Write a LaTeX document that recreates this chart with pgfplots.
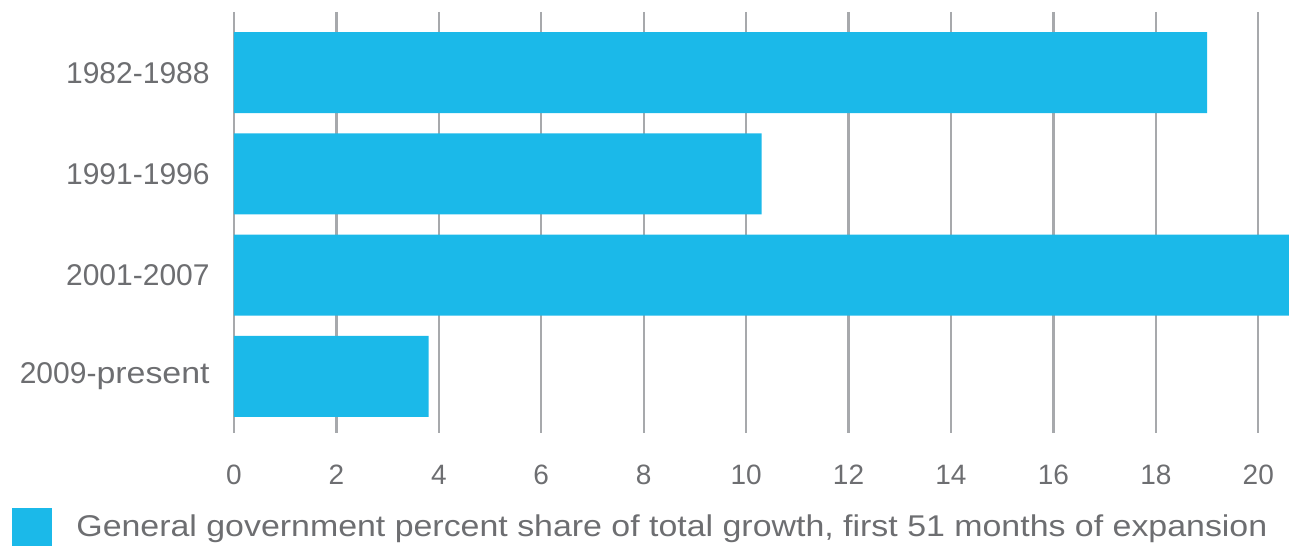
\documentclass[border=0pt]{standalone}
\usepackage{pgfplots}
\pgfplotsset{compat=1.18}
\usepackage{fontspec}
\setmainfont{Liberation Sans}
\newfontfamily\widefont[FakeStretch=1.13]{Liberation Sans}
\definecolor{barblue}{HTML}{1BB9E9}
\definecolor{txtgray}{HTML}{6D6E71}
\definecolor{gridgray}{HTML}{A7A9AC}
\begin{document}
\begin{tikzpicture}
\begin{axis}[
  scale only axis,
  width=527.5pt, height=210.5pt,
  xbar, bar width=0.8,
  y dir=reverse,
  xmin=0, xmax=20.6,
  ymin=-0.6, ymax=3.56,
  ytick={0,1,2,3},
  yticklabels={1982-1988,1991-1996,2001-2007,{2009-{\widefont present}}},
  xtick={0,2,...,20},
  /pgf/number format/assume math mode=true,
  xmajorgrids,
  grid style={gridgray, line width=1.2pt},
  axis line style={draw=none},
  major tick length=0pt,
  tick style={draw=none},
  yticklabel style={anchor=east, inner sep=0pt, xshift=-12pt, font=\fontsize{15}{18}\selectfont, text=txtgray},
  xticklabel style={anchor=north, inner sep=0pt, yshift=-16pt, font=\fontsize{14}{16}\selectfont, text=txtgray},
  legend style={at={(rel axis cs:-0.2104,-0.223)}, anchor=west, draw=none, inner sep=0pt, fill=none,
    font=\widefont\fontsize{15}{18}\selectfont, text=txtgray,
    nodes={inner xsep=0pt}},
  legend image code/.code={\fill[barblue] (0pt,-9.5pt) rectangle (20pt,9.5pt); \path (32pt,0pt);},
]
\addplot[fill=barblue, draw=none] coordinates {(19.0,0) (10.3,1) (20.6,2) (3.8,3)};
\addlegendentry{General government percent share of total growth, first 51 months of expansion}
\coordinate (bl) at (rel axis cs:-0.2218,-0.266);
\coordinate (tr) at (rel axis cs:1,1.0285);
\end{axis}
\path (bl) rectangle (tr);
\end{tikzpicture}
\end{document}
